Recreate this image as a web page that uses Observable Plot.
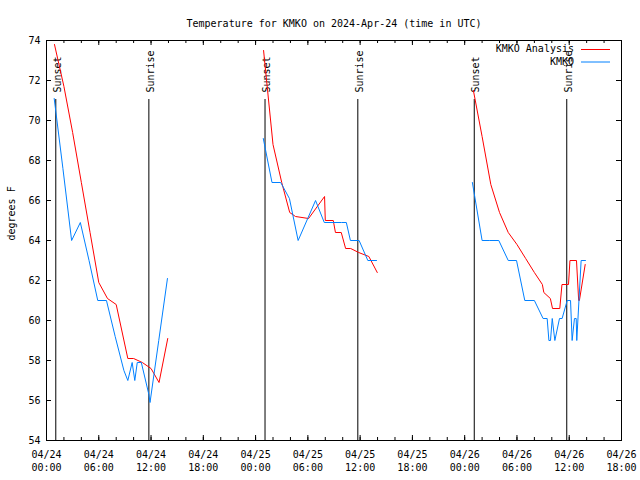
<!DOCTYPE html>
<html>
<head>
<meta charset="utf-8">
<script src="https://cdn.jsdelivr.net/npm/d3@7"></script>
<script src="https://cdn.jsdelivr.net/npm/@observablehq/plot@0.6"></script>
<style>
  html, body { margin: 0; padding: 0; background: #fff; }
  svg { font-family: "DejaVu Sans Mono", "Liberation Mono", monospace; }
</style>
</head>
<body>
<div id="chart"></div>
<script>
// ---------- data ----------
const year = "2024";
const titleText = "Temperature for KMKO on 2024-Apr-24 (time in UTC)";
const yLabel = "degrees F";
const seriesNames = ["KMKO Analysis", "KMKO"];
const seriesColors = ["#ff0000", "#0080ff"];

const analysisTimes = [
  "04-24 00:55","04-24 02:00","04-24 03:00","04-24 04:00","04-24 05:00","04-24 06:00","04-24 07:00",
  "04-24 08:00","04-24 09:20","04-24 10:00","04-24 11:00","04-24 12:00","04-24 12:55","04-24 13:55",
  "04-25 00:55","04-25 02:00","04-25 03:00","04-25 03:55","04-25 04:35","04-25 06:05","04-25 07:55",
  "04-25 08:00","04-25 08:55","04-25 09:10","04-25 09:50","04-25 10:20","04-25 10:55","04-25 11:50",
  "04-25 13:00","04-25 13:58",
  "04-26 01:00","04-26 02:00","04-26 03:00","04-26 04:00","04-26 05:00","04-26 06:00","04-26 07:00",
  "04-26 08:00","04-26 08:55","04-26 09:05","04-26 09:50","04-26 10:05","04-26 10:55","04-26 11:10",
  "04-26 11:55","04-26 12:05","04-26 12:50","04-26 13:05","04-26 13:10","04-26 13:50"
];
const analysisTemps = [
  73.8, 71.7, 69.4, 66.9, 64.4, 61.9, 61.1,
  60.8, 58.1, 58.1, 57.9, 57.6, 56.9, 59.1,
  73.5, 68.8, 66.9, 65.4, 65.2, 65.1, 66.2,
  65.0, 65.0, 64.4, 64.4, 63.6, 63.6, 63.4,
  63.2, 62.4,
  71.5, 69.2, 66.8, 65.4, 64.4, 63.8, 63.1,
  62.4, 61.8, 61.4, 61.1, 60.6, 60.6, 61.8,
  61.8, 63.0, 63.0, 61.0, 61.0, 62.8
];

const obsTimes = [
  "04-24 00:53","04-24 01:53","04-24 02:53","04-24 03:53","04-24 04:53","04-24 05:53","04-24 06:53",
  "04-24 07:53","04-24 08:53","04-24 09:20","04-24 09:50","04-24 10:08","04-24 10:25","04-24 10:53",
  "04-24 11:45","04-24 11:53","04-24 12:53","04-24 13:53",
  "04-25 00:53","04-25 01:53","04-25 02:53","04-25 03:53","04-25 04:53","04-25 06:53","04-25 07:53",
  "04-25 08:53","04-25 09:53","04-25 10:25","04-25 10:53","04-25 11:53","04-25 12:53","04-25 13:53",
  "04-26 00:53","04-26 02:00","04-26 02:53","04-26 03:55","04-26 05:00","04-26 05:57","04-26 06:54",
  "04-26 08:00","04-26 09:00","04-26 09:28","04-26 09:40","04-26 09:51","04-26 10:03","04-26 10:21",
  "04-26 10:53","04-26 11:11","04-26 11:46","04-26 12:09","04-26 12:20","04-26 12:36","04-26 12:48",
  "04-26 12:52","04-26 13:22","04-26 13:52"
];
const obsTemps = [
  71.1, 67.6, 64.0, 64.9, 63.0, 61.0, 61.0,
  59.2, 57.5, 57.0, 57.9, 57.0, 57.9, 57.9,
  56.3, 55.9, 59.0, 62.1,
  69.1, 66.9, 66.9, 66.1, 64.0, 66.0, 64.9,
  64.9, 64.9, 64.9, 64.0, 64.0, 63.0, 63.0,
  66.9, 64.0, 64.0, 64.0, 63.0, 63.0, 61.0,
  61.0, 60.1, 60.1, 59.0, 59.0, 60.1, 59.0,
  60.1, 60.1, 61.0, 61.0, 59.0, 60.1, 60.1,
  59.0, 63.0, 63.0
];

const sunsetTimes = ["04-24 01:04", "04-25 01:05", "04-26 01:06"];
const sunriseTimes = ["04-24 11:45", "04-25 11:44", "04-26 11:43"];
const sunsetLabel = "Sunset";
const sunriseLabel = "Sunrise";

const xDomainTimes = ["04-24 00:00", "04-26 18:00"];
const yDomain = [54, 74];
const yTicks = [54, 56, 58, 60, 62, 64, 66, 68, 70, 72, 74];

// ---------- build ----------
const parse = d3.utcParse("%Y-%m-%d %H:%M");
const toTime = s => parse(`${year}-${s}`);

const analysis = analysisTimes.map((s, i) => ({time: toTime(s), temp: analysisTemps[i], day: s.slice(0, 5)}));
const obs = obsTimes.map((s, i) => ({time: toTime(s), temp: obsTemps[i], day: s.slice(0, 5)}));
const sunEvents = [
  ...sunsetTimes.map(s => ({time: toTime(s), label: sunsetLabel})),
  ...sunriseTimes.map(s => ({time: toTime(s), label: sunriseLabel}))
];

const [xStart, xEnd] = xDomainTimes.map(toTime);
const majorX = d3.utcHour.every(6).range(xStart, new Date(+xEnd + 1));
const minorX = d3.utcHour.every(2).range(xStart, new Date(+xEnd + 1));
const fmtDate = d3.utcFormat("%m/%d");
const fmtTime = d3.utcFormat("%H:%M");

const W = 640, H = 480;
const mL = 46, mR = 19, mT = 40, mB = 40;
const fw = W - mL - mR, fh = H - mT - mB;
const majorLen = 5, minorLen = 3;

const legend = (index, scales, values, dims) => {
  const g = d3.create("svg:g");
  const xr = dims.width - dims.marginRight;
  seriesNames.forEach((name, i) => {
    const y = dims.marginTop + 9 + i * 12.5;
    g.append("text")
      .attr("x", xr - 47).attr("y", y)
      .attr("dy", "0.32em")
      .attr("text-anchor", "end")
      .attr("fill", "black")
      .attr("font-size", 10)
      .text(name);
    g.append("line")
      .attr("x1", xr - 40).attr("x2", xr - 11)
      .attr("y1", y + 0.5).attr("y2", y + 0.5)
      .attr("stroke", seriesColors[i])
      .attr("stroke-width", 1);
  });
  return g.node();
};

const chart = Plot.plot({
  width: W,
  height: H,
  marginLeft: mL,
  marginRight: mR,
  marginTop: mT,
  marginBottom: mB,
  style: {fontSize: "10px", background: "white", color: "black", overflow: "visible"},
  x: {type: "utc", domain: [xStart, xEnd], axis: null},
  y: {domain: yDomain, axis: null},
  marks: [
    // inward ticks, bottom / top
    Plot.tickX(minorX, {x: d => d, insetTop: fh - minorLen, stroke: "black"}),
    Plot.tickX(minorX, {x: d => d, insetBottom: fh - minorLen, stroke: "black"}),
    Plot.tickX(majorX, {x: d => d, insetTop: fh - majorLen, stroke: "black"}),
    Plot.tickX(majorX, {x: d => d, insetBottom: fh - majorLen, stroke: "black"}),
    // inward ticks, left / right
    Plot.tickY(yTicks, {y: d => d, insetRight: fw - majorLen, stroke: "black"}),
    Plot.tickY(yTicks, {y: d => d, insetLeft: fw - majorLen, stroke: "black"}),
    // sunrise / sunset
    Plot.ruleX(sunEvents, {x: "time", insetTop: 59, stroke: "black", strokeWidth: 1}),
    Plot.text(sunEvents, {x: "time", text: "label", frameAnchor: "top", rotate: -90, textAnchor: "start", dy: 52, dx: -2, fill: "black"}),
    // series
    Plot.line(analysis, {x: "time", y: "temp", z: "day", stroke: seriesColors[0], strokeWidth: 1, curve: "linear"}),
    Plot.line(obs, {x: "time", y: "temp", z: "day", stroke: seriesColors[1], strokeWidth: 1, curve: "linear"}),
    // y tick labels
    Plot.text(yTicks, {y: d => d, text: d => String(d), frameAnchor: "left", textAnchor: "end", dx: -6, fill: "black"}),
    // x tick labels
    Plot.text(majorX, {x: d => d, text: d => `${fmtDate(d)}\n${fmtTime(d)}`, frameAnchor: "bottom", lineAnchor: "top", dy: 8, lineHeight: 1.34, fill: "black"}),
    // axis label + title
    Plot.text([yLabel], {text: d => d, frameAnchor: "left", rotate: -90, dx: -35, fill: "black"}),
    Plot.text([titleText], {text: d => d, frameAnchor: "top", dy: -21, fill: "black"}),
    legend,
    Plot.frame({stroke: "black"})
  ]
});

document.getElementById("chart").appendChild(chart);
</script>
</body>
</html>
